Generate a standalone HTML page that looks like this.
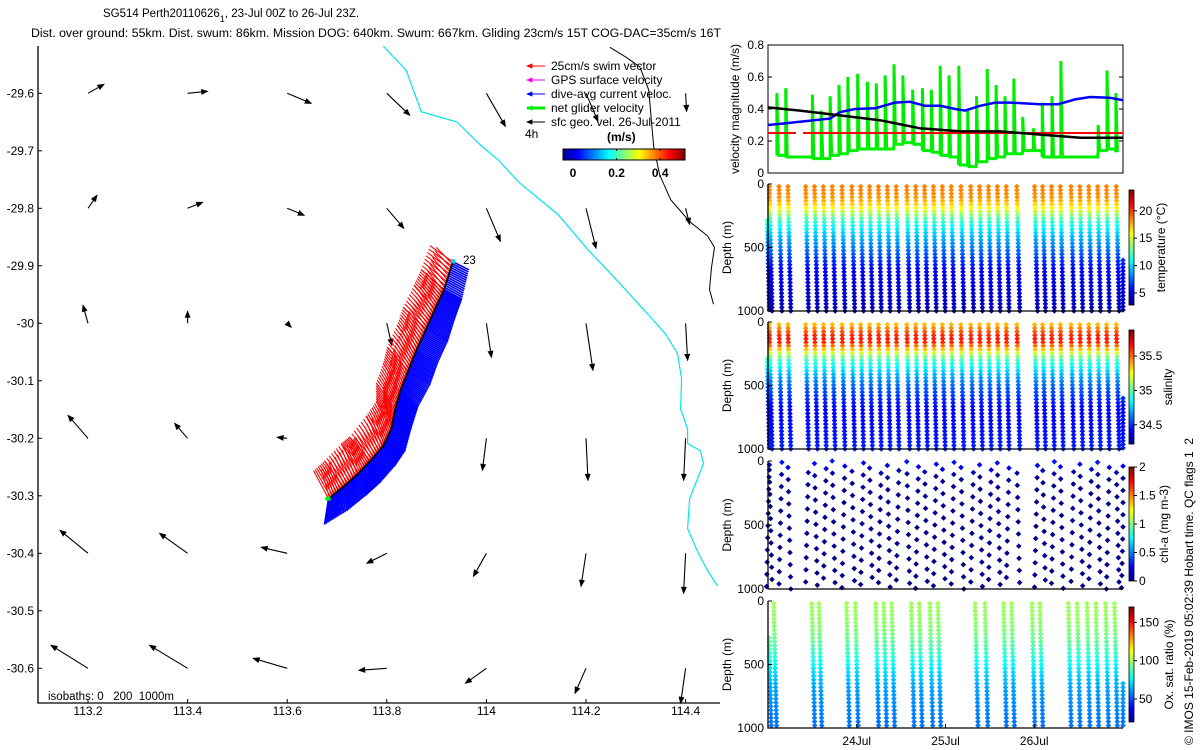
<!DOCTYPE html>
<html><head><meta charset="utf-8"><title>SG514 glider plot</title>
<style>
html,body{margin:0;padding:0;background:#fff;}
svg{display:block;font-family:"Liberation Sans",sans-serif;}
text{font-family:"Liberation Sans",sans-serif;fill:#000;}
</style></head>
<body>
<svg id="chart" width="1200" height="750" viewBox="0 0 1200 750" xmlns="http://www.w3.org/2000/svg">
<defs>
<linearGradient id="jetH" x1="0" y1="0" x2="1" y2="0">
<stop offset="0" stop-color="#00008f"/><stop offset="0.125" stop-color="#0000ff"/><stop offset="0.375" stop-color="#00ffff"/><stop offset="0.625" stop-color="#ffff00"/><stop offset="0.875" stop-color="#ff0000"/><stop offset="1" stop-color="#800000"/>
</linearGradient>
<linearGradient id="jetV" x1="0" y1="1" x2="0" y2="0">
<stop offset="0" stop-color="#00008f"/><stop offset="0.125" stop-color="#0000ff"/><stop offset="0.375" stop-color="#00ffff"/><stop offset="0.625" stop-color="#ffff00"/><stop offset="0.875" stop-color="#ff0000"/><stop offset="1" stop-color="#800000"/>
</linearGradient>
</defs>
<text x="103" y="17" font-size="11.5">SG514 Perth20110626<tspan font-size="9" dy="5">1</tspan><tspan dy="-5">, 23-Jul 00Z to 26-Jul 23Z.</tspan></text>
<text x="31" y="37" font-size="11.5" textLength="690" lengthAdjust="spacingAndGlyphs">Dist. over ground: 55km. Dist. swum: 86km. Mission DOG: 640km. Swum: 667km. Gliding 23cm/s 15T COG-DAC=35cm/s 16T</text>
<text x="48" y="700" font-size="11.5" style="white-space:pre">isobaths: 0   200  1000m</text>
<text transform="translate(1193,745) rotate(-90)" font-size="12" style="white-space:pre">© IMOS 15-Feb-2019 05:02:39 Hobart time. QC flags 1  2</text>
</svg>
<script>
// ---------- data ----------
const gridLon=[113.2,113.4,113.6,113.8,114.0,114.2,114.4];
const gridLat=[-29.6,-29.8,-30.0,-30.2,-30.4,-30.6];
// surface geostrophic velocity, east / north components (cm/s)
const geoU=[[16,20,24,23,19,12,1],[9,15,17,17,14,10,4],[-5,0,4,5,5,7,2],[-20,-13,-10,-3,-4,2,-2],[-28,-28,-26,-20,-13,-5,-2],[-37,-38,-34,-28,-21,-11,-5]];
const geoV=[[9,2,-10,-22,-33,-28,-18],[13,6,-7,-20,-33,-40,-16],[18,12,-4,-22,-34,-47,-37],[23,15,1,-10,-32,-42,-42],[23,20,6,-10,-23,-33,-40],[23,23,10,-2,-15,-25,-35]];
const coastLon=[113.793,113.839,113.869,113.941,113.988,114.024,114.064,114.144,114.204,114.264,114.324,114.360,114.384,114.392,114.390,114.404,114.404,114.430,114.436,114.424,114.408,114.404,114.424,114.444,114.464];
const coastLat=[-29.518,-29.560,-29.632,-29.650,-29.690,-29.716,-29.754,-29.811,-29.872,-29.927,-29.984,-30.019,-30.053,-30.097,-30.149,-30.184,-30.209,-30.222,-30.244,-30.270,-30.305,-30.357,-30.397,-30.430,-30.457];
const isoLon=[114.248,114.280,114.308,114.326,114.336,114.348,114.370,114.408,114.444,114.458,114.452,114.448,114.456];
const isoLat=[-29.520,-29.537,-29.554,-29.594,-29.693,-29.742,-29.785,-29.823,-29.848,-29.868,-29.903,-29.941,-29.967];
const trackLon=[113.683,113.713,113.743,113.767,113.793,113.809,113.817,113.827,113.843,113.859,113.879,113.897,113.915,113.933];
const trackLat=[-30.305,-30.284,-30.261,-30.239,-30.213,-30.184,-30.149,-30.118,-30.083,-30.048,-30.010,-29.975,-29.941,-29.892];
const swimU=[-12,-16,-14,-18,-14,-12,-16,-14,-18,-16,-20,-18,-20,-20];
const swimV=[28,26,30,24,30,28,26,28,24,26,22,24,20,16];
const dacU=[-4,4,8,10,12,14,16,18,22,22,22,20,18,16];
const dacV=[-26,-24,-22,-22,-20,-22,-20,-16,-14,-12,-12,-10,-10,-8];
// velocity panel (days since 23-Jul 00Z)
const dacT=[0,0.19,0.36,0.70,0.81,0.98,1.21,1.43,1.60,1.77,1.94,2.11,2.22,2.39,2.56,2.73,3.06,3.27,3.46,3.63,3.85,4.0];
const dacMag=[0.30,0.31,0.32,0.34,0.38,0.40,0.405,0.44,0.445,0.42,0.42,0.40,0.39,0.42,0.44,0.44,0.43,0.43,0.46,0.475,0.47,0.455];
const geoT=[0,0.36,0.81,1.26,1.71,2.17,2.62,3.07,3.52,4.0];
const geoMag=[0.41,0.39,0.36,0.33,0.28,0.26,0.26,0.24,0.22,0.22];
const swimRef=0.25;
const netT=[0.10,0.20,0.50,0.60,0.70,0.80,0.90,1.01,1.12,1.22,1.32,1.42,1.52,1.63,1.74,1.84,1.94,2.04,2.15,2.25,2.35,2.47,2.57,2.67,2.77,2.87,2.99,3.09,3.20,3.30,3.72,3.82,3.92];
const netHigh=[0.50,0.53,0.49,0.39,0.48,0.55,0.60,0.62,0.57,0.56,0.61,0.68,0.61,0.52,0.53,0.52,0.67,0.61,0.67,0.40,0.48,0.65,0.55,0.48,0.59,0.35,0.28,0.44,0.48,0.70,0.30,0.64,0.50];
const netLow=[0.11,0.10,0.09,0.09,0.11,0.12,0.14,0.15,0.15,0.15,0.15,0.18,0.19,0.18,0.14,0.13,0.11,0.10,0.05,0.04,0.07,0.09,0.10,0.12,0.12,0.14,0.14,0.10,0.10,0.10,0.14,0.15,0.13];
// profile dives
const diveT=[0.0,0.03,0.14,0.24,0.44,0.54,0.64,0.74,0.85,0.96,1.06,1.16,1.26,1.36,1.46,1.58,1.68,1.78,1.88,1.98,2.08,2.19,2.30,2.40,2.50,2.60,2.70,2.82,3.02,3.11,3.21,3.31,3.43,3.53,3.63,3.73,3.83,3.94,4.0];
const diveTop=[290,20,20,20,20,20,20,20,20,20,20,20,20,20,20,20,20,20,20,20,20,20,20,20,20,20,20,20,20,20,20,20,20,20,20,20,20,20,600];
const profDepth=[0,100,150,200,250,300,400,500,600,700,1000];
const tempProf=[18.6,18.2,17.2,15.6,13.3,11.5,9.5,8,6.5,5,4];
const salProf=[35.3,35.6,35.65,35.45,35.15,34.95,34.75,34.6,34.5,34.42,34.48];
const chlDepth=[0,50,100,150,200,1000];
const chlProf=[0.3,0.2,0.08,0.04,0.03,0.02];
const chlPhase=[30,70,10,50,90,20,60,0,40,80,15,55,95,35,75,5,45,85,25,65,10,50,90,30,70,15,55,95,35,75,5,45,85,25,65,10,50,90,40];
const oxT=[0.02,0.08,0.51,0.59,0.90,1.00,1.23,1.32,1.41,1.63,1.72,1.84,1.93,2.35,2.46,2.67,2.76,2.99,3.08,3.40,3.50,3.61,3.71,3.82,3.92,4.0];
const oxTop=[290,20,20,20,20,20,20,20,20,20,20,20,20,20,20,20,20,20,20,20,20,20,20,20,20,650];
const oxProf=[100,99,98,97,95,92,85,76,68,62,55];
const dayTicks=[1,2,3];
const dayLabels=['24Jul','25Jul','26Jul'];

// ---------- helpers ----------
const NS='http://www.w3.org/2000/svg';
const svg=document.getElementById('chart');
function mk(tag,a,parent){const e=document.createElementNS(NS,tag);for(const k in a)e.setAttribute(k,a[k]);(parent||svg).appendChild(e);return e;}
function txt(s,a,parent){const e=mk('text',a,parent);e.textContent=s;return e;}
function clamp(v){return Math.max(0,Math.min(1,v));}
function jet(t){t=clamp(t);const r=clamp(1.5-Math.abs(4*t-3)),g=clamp(1.5-Math.abs(4*t-2)),b=clamp(1.5-Math.abs(4*t-1));return 'rgb('+Math.round(r*255)+','+Math.round(g*255)+','+Math.round(b*255)+')';}
function interp(xs,ys,x){if(x<=xs[0])return ys[0];for(let i=1;i<xs.length;i++){if(x<=xs[i]){const f=(x-xs[i-1])/(xs[i]-xs[i-1]);return ys[i-1]+f*(ys[i]-ys[i-1]);}}return ys[ys.length-1];}

// ---------- map axes ----------
const MX=lon=>88+(lon-113.2)*498;
const MY=lat=>93.3+(-29.6-lat)*575;
const mapG=mk('g',{});


let ax=mk('path',{d:'M38,46 V703 H720',fill:'none',stroke:'#000','stroke-width':1.3},mapG);


[-29.6,-29.7,-29.8,-29.9,-30.0,-30.1,-30.2,-30.3,-30.4,-30.5,-30.6].forEach(v=>{
  const y=MY(v);
  const t=mk('line',{x1:38,x2:42,y1:y,y2:y,stroke:'#000'},mapG);
  
  
  const l=txt((Math.round(v*10)/10===-30?'-30':v.toFixed(1)),{x:34,y:y+4,'font-size':12,'text-anchor':'end'},mapG);
  
  
});
[113.2,113.4,113.6,113.8,114.0,114.2,114.4].forEach(v=>{
  const x=MX(v);
  const t=mk('line',{x1:x,x2:x,y1:703,y2:699,stroke:'#000'},mapG);
  
  
  const l=txt(v===114?'114':v.toFixed(1),{x:x,y:715,'font-size':12,'text-anchor':'middle'},mapG);
  
  
});
// coastline + isobath
let cp=coastLon.map((lo,i)=>(i?'L':'M')+MX(lo).toFixed(1)+','+MY(coastLat[i]).toFixed(1)).join('');
let coast=mk('path',{d:cp,fill:'none',stroke:'#00e5ee','stroke-width':1.2},mapG);


let ip=isoLon.map((lo,i)=>(i?'L':'M')+MX(lo).toFixed(1)+','+MY(isoLat[i]).toFixed(1)).join('');
let iso=mk('path',{d:ip,fill:'none',stroke:'#000','stroke-width':1},mapG);



function arrow(x0,y0,x1,y1,col,w,hl,parent){
  const g=mk('g',{},parent);
  mk('line',{x1:x0,y1:y0,x2:x1,y2:y1,stroke:col,'stroke-width':w},g);
  const dx=x1-x0,dy=y1-y0,L=Math.hypot(dx,dy)||1,ux=dx/L,uy=dy/L;
  const bx=x1-ux*hl,by=y1-uy*hl,px=-uy*hl*0.4,py=ux*hl*0.4;
  mk('path',{d:`M${x1},${y1}L${bx+px},${by+py}L${bx-px},${by-py}Z`,fill:col,stroke:col,'stroke-width':0.8},g);
  return g;
}
// geostrophic arrows
gridLat.forEach((la,r)=>gridLon.forEach((lo,c)=>{
  const x=MX(lo),y=MY(la);
  const a=arrow(x,y,x+geoU[r][c],y-geoV[r][c],'#000',1.1,6,mapG);
  
  
}));
// glider track swim & DAC vectors
const trk=mk('g',{},mapG);


for(let i=0;i<trackLon.length-1;i++){
  for(let s=0;s<1;s+=0.07){
    const lo=trackLon[i]+s*(trackLon[i+1]-trackLon[i]),la=trackLat[i]+s*(trackLat[i+1]-trackLat[i]);
    const x=MX(lo),y=MY(la);
    const su=swimU[i]+s*(swimU[i+1]-swimU[i]),sv=swimV[i]+s*(swimV[i+1]-swimV[i]);
    const du=dacU[i]+s*(dacU[i+1]-dacU[i]),dv=dacV[i]+s*(dacV[i+1]-dacV[i]);
    const b=mk('line',{x1:x,y1:y,x2:x+du,y2:y-dv,stroke:'#0000ff','stroke-width':1.6},trk);
    
    
    const wob=(Math.round(s*14)%2)?4:-3;
    const rr=mk('line',{x1:x,y1:y,x2:x+su+wob,y2:y-sv,stroke:'#ff0000','stroke-width':1.1},trk);
    
    
  }
}
let tp=trackLon.map((lo,i)=>(i?'L':'M')+MX(lo).toFixed(1)+','+MY(trackLat[i]).toFixed(1)).join('');
let tl=mk('path',{d:tp,fill:'none',stroke:'#000','stroke-width':1.8},trk);


let st=mk('rect',{x:MX(trackLon[0])-3,y:MY(trackLat[0])-2,width:5,height:4,fill:'#00ee00'},trk);


let en=mk('rect',{x:MX(trackLon[13])-2,y:MY(trackLat[13])-2,width:4,height:4,fill:'#00ccff'},trk);


let l23=txt('23',{x:463,y:264,'font-size':11.5},mapG);



// legend
const leg=mk('g',{},mapG);


const legItems=[['25cm/s swim vector','#ff0000',1],['GPS surface velocity','#ff00ff',1],['dive-avg current veloc.','#0000ff',1],['net glider velocity','#00ee00',3],['sfc geo. vel. 26-Jul-2011','#000',1]];
legItems.forEach((it,i)=>{
  const y=66+i*14;
  const a=arrow(545,y,527,y,it[1],it[2],5,leg);
  
  
  const t=txt(it[0],{x:551,y:y+4,'font-size':12},leg);
  
  
});
let h4=txt('4h',{x:525,y:138,'font-size':12},leg);


let ms=txt('(m/s)',{x:607,y:141,'font-size':12,'font-weight':'bold'},leg);


let cb=mk('rect',{x:563,y:149,width:122,height:11,fill:'url(#jetH)',stroke:'#000','stroke-width':1},leg);


[[0,'0'],[0.2,'0.2'],[0.4,'0.4']].forEach(k=>{
  const x=573+k[0]*218;
  mk('line',{x1:x,x2:x,y1:149,y2:151,stroke:'#000'},leg);
  mk('line',{x1:x,x2:x,y1:160,y2:158,stroke:'#000'},leg);
  const t=txt(k[1],{x:x,y:177,'font-size':12,'font-weight':'bold','text-anchor':'middle'},leg);
  
  
});

// ---------- right panels ----------
const PX0=768,PX1=1123;
const TX=d=>PX0+d*(PX1-PX0)/4;
function leftTicks(g,y0,y1,vals,labs,valMin,valMax){
  vals.forEach((v,i)=>{
    const y=y1-(v-valMin)/(valMax-valMin)*(y1-y0);
    mk('line',{x1:PX0,x2:PX0+4,y1:y,y2:y,stroke:'#000'},g);
    const t=txt(labs[i],{x:764,y:y+4,'font-size':12,'text-anchor':'end'},g);
    
    
  });
}
// velocity panel
const VY=v=>173-v*160;
const vg=mk('g',{});


let vb=mk('rect',{x:PX0,y:45,width:PX1-PX0,height:128,fill:'none',stroke:'#000','stroke-width':1},vg);


[0,0.2,0.4,0.6,0.8].forEach(v=>{mk('line',{x1:PX1,x2:PX1-4,y1:VY(v),y2:VY(v),stroke:'#000'},vg);});
leftTicks(vg,45,173,[0,0.2,0.4,0.6,0.8],['0','0.2','0.4','0.6','0.8'],0,0.8);
let vl=txt('velocity magnitude (m/s)',{transform:'translate(739,109) rotate(-90)','font-size':12,'text-anchor':'middle'},vg);


let gp='';
netT.forEach((t,i)=>{
  const x=TX(t);
  gp+=(i?'L':'M')+x+','+VY(netLow[i])+'L'+x+','+VY(netHigh[i])+'L'+(x+1.5)+','+VY(netLow[i]);
  if(i<netT.length-1)gp+='L'+(TX(netT[i+1])-0.5)+','+VY(netLow[i]);
});
let gl=mk('path',{d:gp,fill:'none',stroke:'#00ee00','stroke-width':3,'stroke-linejoin':'miter'},vg);


let rl=mk('line',{x1:PX0,x2:PX1,y1:VY(swimRef),y2:VY(swimRef),stroke:'#ff0000','stroke-width':2,'stroke-dasharray':'28,7,400,0'},vg);


let bp=dacT.map((t,i)=>(i?'L':'M')+TX(t)+','+VY(dacMag[i])).join('');
let bl=mk('path',{d:bp,fill:'none',stroke:'#0000ff','stroke-width':2.5},vg);


let kp=geoT.map((t,i)=>(i?'L':'M')+TX(t)+','+VY(geoMag[i])).join('');
let kl=mk('path',{d:kp,fill:'none',stroke:'#000','stroke-width':2.5},vg);



// scatter panels
function diamond(g,x,y,col){
  const p=mk('path',{d:`M${x-2.8},${y}L${x},${y-2.8}L${x+2.8},${y}L${x},${y+2.8}Z`,fill:col},g);
  return p;
}
function scatterPanel(name,y0,y1,cy0,cy1,vmin,vmax,cticks,clabel,labX,fillFn,hasX){
  const g=mk('g',{});
  
  
  const D=d=>y0+d/1000*(y1-y0);
  fillFn(g,D,v=>jet((v-vmin)/(vmax-vmin)));
  const a=mk('path',{d:`M${PX0},${y0}V${y1}H${PX1}`,fill:'none',stroke:'#000','stroke-width':1.3},g);
  
  
  leftTicks(g,y0,y1,[1000,500,0],['0','500','1000'],0,1000);
  const dl=txt('Depth (m)',{transform:`translate(731,${(y0+y1)/2}) rotate(-90)`,'font-size':12,'text-anchor':'middle'},g);
  
  
  const c=mk('rect',{x:1129,y:cy0,width:5,height:cy1-cy0,fill:'url(#jetV)',stroke:'#000','stroke-width':0.8},g);
  
  
  cticks.forEach(v=>{
    const y=cy1-(v-vmin)/(vmax-vmin)*(cy1-cy0);
    mk('line',{x1:1134,x2:1137,y1:y,y2:y,stroke:'#000'},g);
    const t=txt(String(v),{x:1139,y:y+4,'font-size':12},g);
    
    
  });
  const cl=txt(clabel,{transform:`translate(${labX},${(cy0+cy1)/2}) rotate(-90)`,'font-size':12,'text-anchor':'middle'},g);
  
  
  if(hasX){
    dayTicks.forEach((d,i)=>{
      const x=TX(d);
      mk('line',{x1:x,x2:x,y1:y1,y2:y1-4,stroke:'#000'},g);
      const t=txt(dayLabels[i],{x:x,y:745,'font-size':12,'text-anchor':'middle'},g);
      
      
    });
  }
}
function columns(times,tops,prof,step){
  return (g,D,C)=>{
    times.forEach((t,k)=>{
      for(let d=tops[k];d<=1000;d+=step){
        const x=TX(t)+(d/1000-0.5)*3;
        const p=diamond(g,Math.min(PX1,x),D(d),C(interp(profDepth,prof,d)));
        
        
      }
    });
  };
}
scatterPanel('temperature',184,311,190,305,2.8,23.8,[5,10,15,20],'temperature (°C)',1165,columns(diveT,diveTop,tempProf,28),false);
scatterPanel('salinity',322,449,330,444,34.22,35.88,[34.5,35,35.5],'salinity',1172,columns(diveT,diveTop,salProf,28),false);
scatterPanel('chlorophyll',461,589,467,581,0,2,[0,0.5,1,1.5,2],'chl-a (mg m-3)',1168,(g,D,C)=>{
  diveT.forEach((t,k)=>{
    for(let d=chlPhase[k];d<=1000;d+=95){
      const x=TX(t)+((k%2)?3:-3)*(d/1000-0.5);
      const p=diamond(g,Math.min(PX1,x),D(d),C(interp(chlDepth,chlProf,d)));
      
      
    }
  });
},false);
scatterPanel('oxygen',601,728,607,722,20,170,[50,100,150],'Ox. sat. ratio (%)',1173,columns(oxT,oxTop,oxProf,30),true);
</script>
</body></html>
